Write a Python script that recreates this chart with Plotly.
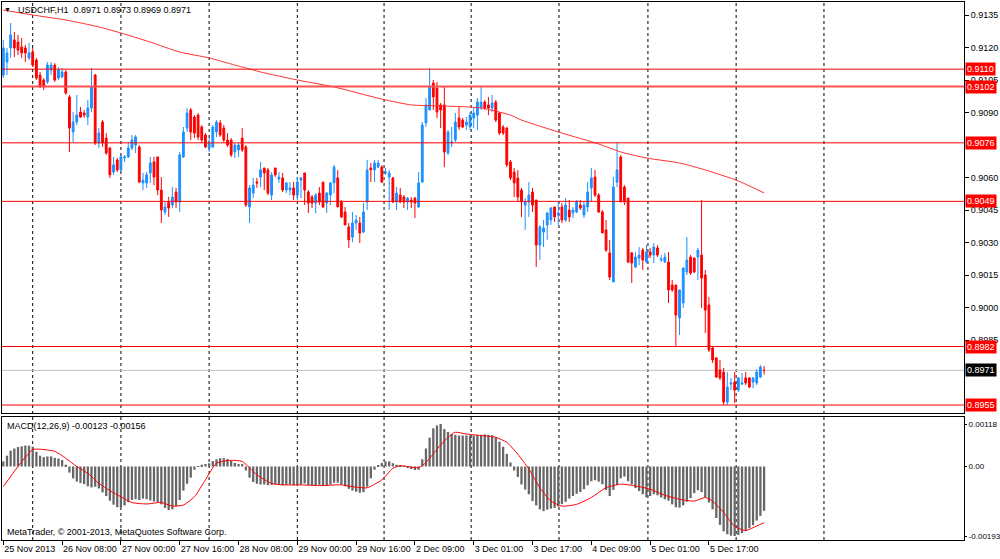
import plotly.graph_objects as go

# ---------------- data (USDCHF H1, one value per bar) ----------------
opens = [
    0.91073, 0.91133, 0.91198, 0.91235, 0.91225, 0.91202, 0.91198, 0.91152, 0.91179, 0.91142,
    0.91073, 0.91050, 0.91041, 0.91096, 0.91119, 0.91059, 0.91064, 0.91087, 0.90972, 0.90810,
    0.90856, 0.90902, 0.90898, 0.90879, 0.90921, 0.91073, 0.90759, 0.90856, 0.90782, 0.90736,
    0.90625, 0.90681, 0.90635, 0.90690, 0.90695, 0.90736, 0.90750, 0.90741, 0.90575, 0.90575,
    0.90621, 0.90672, 0.90695, 0.90542, 0.90441, 0.90487, 0.90473, 0.90533, 0.90487, 0.90695,
    0.90828, 0.90912, 0.90879, 0.90888, 0.90833, 0.90796, 0.90736, 0.90741, 0.90810, 0.90852,
    0.90828, 0.90773, 0.90773, 0.90718, 0.90727, 0.90782, 0.90741, 0.90464, 0.90528, 0.90579,
    0.90602, 0.90644, 0.90635, 0.90519, 0.90644, 0.90593, 0.90598, 0.90542, 0.90542, 0.90552,
    0.90519, 0.90588, 0.90621, 0.90533, 0.90510, 0.90482, 0.90528, 0.90579, 0.90482, 0.90519,
    0.90575, 0.90598, 0.90487, 0.90441, 0.90372, 0.90325, 0.90390, 0.90390, 0.90348, 0.90487,
    0.90644, 0.90635, 0.90648, 0.90648, 0.90621, 0.90602, 0.90598, 0.90487, 0.90519, 0.90510,
    0.90487, 0.90496, 0.90505, 0.90464, 0.90579, 0.90852, 0.90912, 0.91036, 0.91013, 0.90935,
    0.90935, 0.90713, 0.90759, 0.90773, 0.90875, 0.90865, 0.90842, 0.90833, 0.90875, 0.90888,
    0.90921, 0.90948, 0.90935, 0.90921, 0.90948, 0.90898, 0.90833, 0.90828, 0.90672, 0.90625,
    0.90598, 0.90542, 0.90473, 0.90487, 0.90533, 0.90496, 0.90288, 0.90348, 0.90381, 0.90404,
    0.90464, 0.90427, 0.90464, 0.90404, 0.90450, 0.90436, 0.90441, 0.90473, 0.90427, 0.90464,
    0.90552, 0.90602, 0.90519, 0.90441, 0.90358, 0.90252, 0.90118, 0.90579, 0.90695, 0.90556,
    0.90505, 0.90252, 0.90187, 0.90228, 0.90265, 0.90210, 0.90256, 0.90242, 0.90275, 0.90219,
    0.90210, 0.90210, 0.90104, 0.90104, 0.89952, 0.90021, 0.90164, 0.90233, 0.90228, 0.90233,
    0.90242, 0.90150, 0.90012, 0.89813, 0.89767, 0.89712, 0.89702, 0.89564, 0.89647, 0.89656,
    0.89619, 0.89647, 0.89675, 0.89675, 0.89656, 0.89652, 0.89679, 0.89710,
]
highs = [
    0.91235, 0.91198, 0.91313, 0.91272, 0.91258, 0.91244, 0.91212, 0.91221, 0.91198, 0.91152,
    0.91087, 0.91059, 0.91133, 0.91133, 0.91128, 0.91110, 0.91105, 0.91096, 0.90981, 0.90902,
    0.90981, 0.90925, 0.90912, 0.90958, 0.91105, 0.91078, 0.90828, 0.90865, 0.90805, 0.90741,
    0.90695, 0.90690, 0.90704, 0.90704, 0.90764, 0.90796, 0.90796, 0.90750, 0.90621, 0.90625,
    0.90695, 0.90695, 0.90695, 0.90602, 0.90487, 0.90510, 0.90556, 0.90552, 0.90718, 0.90833,
    0.90921, 0.90921, 0.90888, 0.90898, 0.90842, 0.90805, 0.90782, 0.90842, 0.90865, 0.90865,
    0.90842, 0.90805, 0.90782, 0.90759, 0.90759, 0.90828, 0.90750, 0.90565, 0.90598, 0.90598,
    0.90672, 0.90644, 0.90644, 0.90625, 0.90644, 0.90625, 0.90621, 0.90579, 0.90579, 0.90579,
    0.90602, 0.90602, 0.90621, 0.90542, 0.90519, 0.90528, 0.90556, 0.90579, 0.90533, 0.90579,
    0.90658, 0.90635, 0.90496, 0.90464, 0.90390, 0.90441, 0.90427, 0.90418, 0.90482, 0.90681,
    0.90667, 0.90681, 0.90681, 0.90658, 0.90644, 0.90635, 0.90602, 0.90556, 0.90552, 0.90519,
    0.90510, 0.90510, 0.90510, 0.90625, 0.90856, 0.90967, 0.91105, 0.91050, 0.91041, 0.90944,
    0.91018, 0.90819, 0.90833, 0.90898, 0.90925, 0.90875, 0.90879, 0.90902, 0.90921, 0.90967,
    0.91018, 0.90958, 0.90972, 0.90981, 0.90958, 0.90902, 0.90842, 0.90833, 0.90681, 0.90644,
    0.90635, 0.90552, 0.90505, 0.90579, 0.90552, 0.90496, 0.90381, 0.90404, 0.90441, 0.90464,
    0.90464, 0.90487, 0.90482, 0.90505, 0.90496, 0.90464, 0.90496, 0.90496, 0.90487, 0.90579,
    0.90644, 0.90635, 0.90528, 0.90450, 0.90404, 0.90312, 0.90602, 0.90764, 0.90704, 0.90565,
    0.90505, 0.90256, 0.90256, 0.90279, 0.90275, 0.90288, 0.90275, 0.90298, 0.90288, 0.90242,
    0.90252, 0.90256, 0.90127, 0.90104, 0.90081, 0.90187, 0.90325, 0.90242, 0.90233, 0.90275,
    0.90496, 0.90173, 0.90048, 0.89818, 0.89772, 0.89758, 0.89721, 0.89702, 0.89675, 0.89702,
    0.89679, 0.89698, 0.89702, 0.89679, 0.89679, 0.89716, 0.89735, 0.89730,
]
lows = [
    0.91059, 0.91073, 0.91152, 0.91156, 0.91165, 0.91152, 0.91133, 0.91142, 0.91110, 0.91050,
    0.91013, 0.91004, 0.91032, 0.91073, 0.91041, 0.91050, 0.91059, 0.90981, 0.90718, 0.90764,
    0.90842, 0.90875, 0.90875, 0.90842, 0.90902, 0.90750, 0.90736, 0.90741, 0.90704, 0.90598,
    0.90612, 0.90625, 0.90625, 0.90672, 0.90690, 0.90727, 0.90713, 0.90575, 0.90542, 0.90552,
    0.90575, 0.90565, 0.90519, 0.90390, 0.90427, 0.90418, 0.90459, 0.90459, 0.90441, 0.90690,
    0.90810, 0.90773, 0.90782, 0.90773, 0.90759, 0.90736, 0.90718, 0.90736, 0.90787, 0.90787,
    0.90764, 0.90741, 0.90695, 0.90690, 0.90695, 0.90718, 0.90464, 0.90390, 0.90505, 0.90552,
    0.90556, 0.90542, 0.90519, 0.90496, 0.90602, 0.90575, 0.90533, 0.90528, 0.90519, 0.90496,
    0.90496, 0.90505, 0.90473, 0.90436, 0.90459, 0.90436, 0.90473, 0.90459, 0.90436, 0.90473,
    0.90528, 0.90464, 0.90413, 0.90381, 0.90275, 0.90302, 0.90358, 0.90298, 0.90344, 0.90450,
    0.90579, 0.90579, 0.90644, 0.90575, 0.90612, 0.90450, 0.90482, 0.90450, 0.90482, 0.90459,
    0.90450, 0.90459, 0.90413, 0.90459, 0.90575, 0.90833, 0.90912, 0.90912, 0.90875, 0.90828,
    0.90648, 0.90704, 0.90741, 0.90764, 0.90819, 0.90828, 0.90819, 0.90819, 0.90828, 0.90819,
    0.90912, 0.90912, 0.90888, 0.90902, 0.90856, 0.90796, 0.90796, 0.90648, 0.90588, 0.90510,
    0.90487, 0.90418, 0.90358, 0.90418, 0.90441, 0.90187, 0.90219, 0.90279, 0.90312, 0.90381,
    0.90395, 0.90381, 0.90390, 0.90395, 0.90395, 0.90413, 0.90436, 0.90450, 0.90413, 0.90441,
    0.90487, 0.90510, 0.90436, 0.90344, 0.90256, 0.90127, 0.90118, 0.90556, 0.90487, 0.90473,
    0.90205, 0.90113, 0.90182, 0.90196, 0.90173, 0.90205, 0.90228, 0.90205, 0.90233, 0.90210,
    0.90205, 0.90021, 0.90072, 0.89818, 0.89873, 0.89998, 0.90150, 0.90150, 0.90159, 0.90127,
    0.89998, 0.89882, 0.89795, 0.89744, 0.89675, 0.89665, 0.89550, 0.89550, 0.89619, 0.89559,
    0.89610, 0.89642, 0.89642, 0.89628, 0.89628, 0.89642, 0.89675, 0.89690,
]
closes = [
    0.91198, 0.91175, 0.91258, 0.91198, 0.91188, 0.91175, 0.91175, 0.91175, 0.91119, 0.91059,
    0.91018, 0.91018, 0.91119, 0.91119, 0.91050, 0.91096, 0.91087, 0.90990, 0.90828, 0.90856,
    0.90888, 0.90879, 0.90888, 0.90921, 0.91018, 0.90759, 0.90805, 0.90759, 0.90713, 0.90612,
    0.90658, 0.90635, 0.90695, 0.90695, 0.90736, 0.90773, 0.90787, 0.90579, 0.90588, 0.90612,
    0.90667, 0.90602, 0.90542, 0.90450, 0.90464, 0.90459, 0.90510, 0.90487, 0.90704, 0.90810,
    0.90898, 0.90810, 0.90805, 0.90787, 0.90773, 0.90741, 0.90759, 0.90833, 0.90856, 0.90796,
    0.90773, 0.90750, 0.90704, 0.90750, 0.90750, 0.90727, 0.90473, 0.90552, 0.90565, 0.90575,
    0.90635, 0.90621, 0.90528, 0.90612, 0.90612, 0.90602, 0.90542, 0.90575, 0.90552, 0.90519,
    0.90579, 0.90598, 0.90542, 0.90482, 0.90482, 0.90519, 0.90487, 0.90464, 0.90528, 0.90575,
    0.90648, 0.90464, 0.90418, 0.90381, 0.90312, 0.90390, 0.90404, 0.90344, 0.90441, 0.90635,
    0.90635, 0.90667, 0.90667, 0.90579, 0.90625, 0.90621, 0.90487, 0.90528, 0.90487, 0.90487,
    0.90505, 0.90487, 0.90482, 0.90575, 0.90842, 0.90935, 0.91018, 0.90972, 0.90902, 0.90912,
    0.90718, 0.90810, 0.90764, 0.90856, 0.90833, 0.90833, 0.90856, 0.90888, 0.90898, 0.90948,
    0.90948, 0.90921, 0.90921, 0.90944, 0.90865, 0.90805, 0.90805, 0.90658, 0.90598, 0.90575,
    0.90510, 0.90487, 0.90487, 0.90519, 0.90473, 0.90288, 0.90372, 0.90367, 0.90436, 0.90459,
    0.90418, 0.90436, 0.90404, 0.90473, 0.90418, 0.90450, 0.90487, 0.90459, 0.90473, 0.90533,
    0.90598, 0.90519, 0.90441, 0.90344, 0.90265, 0.90141, 0.90556, 0.90635, 0.90487, 0.90487,
    0.90210, 0.90205, 0.90233, 0.90242, 0.90219, 0.90256, 0.90242, 0.90279, 0.90242, 0.90224,
    0.90233, 0.90081, 0.90081, 0.89965, 0.90081, 0.90182, 0.90219, 0.90159, 0.90164, 0.90265,
    0.90136, 0.89988, 0.89804, 0.89758, 0.89679, 0.89675, 0.89564, 0.89633, 0.89652, 0.89619,
    0.89675, 0.89652, 0.89652, 0.89633, 0.89675, 0.89702, 0.89725, 0.89710,
]

# moving average (sampled points along the red curve)
ma_bar = [0, 8, 17, 26, 32, 40, 48, 56, 63, 67, 70, 80, 90, 103, 111, 120, 130, 138, 141,
          152, 162, 168, 175, 184, 191, 200, 207]
ma_val = [0.91373, 0.91350, 0.91327, 0.91295, 0.91267, 0.91225, 0.91179, 0.91152, 0.91119,
          0.91101, 0.91087, 0.91050, 0.91018, 0.90962, 0.90935, 0.90930, 0.90921, 0.90888,
          0.90865, 0.90805, 0.90755, 0.90718, 0.90690, 0.90667, 0.90635, 0.90584, 0.90529]

# MACD main (histogram), one per bar
macd_hist = [
    0.00014, 0.00030, 0.00044, 0.00050, 0.00054, 0.00056, 0.00058, 0.00058, 0.00055, 0.00041,
    0.00030, 0.00026, 0.00028, 0.00028, 0.00024, 0.00022, 0.00018, 0.00005, -0.00017, -0.00033,
    -0.00042, -0.00046, -0.00049, -0.00055, -0.00058, -0.00056, -0.00061, -0.00072, -0.00082, -0.00095,
    -0.00106, -0.00113, -0.00113, -0.00108, -0.00099, -0.00093, -0.00091, -0.00093, -0.00089, -0.00091,
    -0.00094, -0.00097, -0.00099, -0.00105, -0.00115, -0.00121, -0.00119, -0.00110, -0.00093, -0.00067,
    -0.00048, -0.00031, -0.00009, 0.00001, 0.00005, 0.00007, 0.00009, 0.00015, 0.00020, 0.00023,
    0.00023, 0.00021, 0.00016, 0.00010, 0.00007, 0.00007, -0.00011, -0.00031, -0.00043, -0.00048,
    -0.00050, -0.00050, -0.00052, -0.00051, -0.00049, -0.00051, -0.00052, -0.00051, -0.00050, -0.00052,
    -0.00051, -0.00050, -0.00047, -0.00051, -0.00052, -0.00054, -0.00051, -0.00052, -0.00054, -0.00050,
    -0.00045, -0.00045, -0.00050, -0.00055, -0.00062, -0.00067, -0.00070, -0.00073, -0.00071, -0.00056,
    -0.00033, -0.00009, 0.00003, 0.00010, 0.00014, 0.00014, 0.00009, 0.00005, 0.00002, -0.00001,
    -0.00004, -0.00007, -0.00010, -0.00009, 0.00020, 0.00050, 0.00080, 0.00106, 0.00114, 0.00118,
    0.00104, 0.00096, 0.00090, 0.00088, 0.00086, 0.00086, 0.00086, 0.00086, 0.00086, 0.00087,
    0.00088, 0.00089, 0.00088, 0.00087, 0.00081, 0.00069, 0.00055, 0.00035, 0.00011, -0.00011,
    -0.00029, -0.00050, -0.00064, -0.00077, -0.00096, -0.00108, -0.00119, -0.00124, -0.00120, -0.00117,
    -0.00115, -0.00111, -0.00104, -0.00098, -0.00089, -0.00082, -0.00076, -0.00071, -0.00063, -0.00052,
    -0.00041, -0.00038, -0.00042, -0.00049, -0.00065, -0.00082, -0.00065, -0.00051, -0.00033, -0.00028,
    -0.00041, -0.00050, -0.00060, -0.00068, -0.00077, -0.00086, -0.00082, -0.00077, -0.00080, -0.00086,
    -0.00091, -0.00095, -0.00105, -0.00113, -0.00114, -0.00108, -0.00098, -0.00088, -0.00074, -0.00066,
    -0.00071, -0.00085, -0.00100, -0.00119, -0.00143, -0.00162, -0.00180, -0.00188, -0.00192, -0.00193,
    -0.00190, -0.00185, -0.00178, -0.00171, -0.00163, -0.00150, -0.00137, -0.00123,
]

# MACD signal (sampled points along the red curve)
sig_bar = [0, 4, 8, 10, 14, 17, 20, 23, 26, 29, 32, 35, 39, 43, 46, 49, 52, 55, 58, 62, 65, 69,
           73, 76, 81, 86, 92, 95, 99, 103, 106, 108, 113, 115, 118, 121, 123, 126, 130, 134,
           137, 140, 143, 146, 149, 152, 156, 160, 164, 168, 172, 176, 180, 184, 188, 191, 193,
           196, 199, 202, 205, 207]
sig_val = [-0.00056, 0.00000, 0.00047, 0.00048, 0.00042, 0.00023, 0.00000, -0.00019, -0.00047,
           -0.00067, -0.00084, -0.00100, -0.00104, -0.00100, -0.00110, -0.00107, -0.00084,
           -0.00037, 0.00009, 0.00017, 0.00014, -0.00023, -0.00047, -0.00051, -0.00051,
           -0.00053, -0.00051, -0.00056, -0.00059, -0.00037, -0.00005, 0.00002, -0.00003,
           0.00011, 0.00048, 0.00081, 0.00095, 0.00090, 0.00086, 0.00081, 0.00067, 0.00034,
           -0.00007, -0.00059, -0.00096, -0.00110, -0.00105, -0.00086, -0.00059, -0.00049,
           -0.00054, -0.00063, -0.00080, -0.00091, -0.00096, -0.00086, -0.00096, -0.00128,
           -0.00166, -0.00178, -0.00165, -0.00156]

# horizontal levels
level_vals = [0.9110, 0.9102, 0.9076, 0.9049, 0.8982, 0.8955]
current_price = 0.8971

# axes
price_ticks = [0.9135, 0.9120, 0.9105, 0.9090, 0.9060, 0.9045, 0.9030, 0.9015, 0.9000, 0.8985]
macd_ticks = [0.00118, 0.0, -0.00193]
macd_tick_text = ["0.00118", "0.00", "-0.00193"]
time_tick_bars = [0, 16, 32, 48, 64, 80, 96, 112, 128, 144, 160, 176, 192]
time_tick_labels = ["25 Nov 2013", "26 Nov 08:00", "27 Nov 00:00", "27 Nov 16:00",
                    "28 Nov 08:00", "29 Nov 00:00", "29 Nov 16:00", "2 Dec 09:00",
                    "3 Dec 01:00", "3 Dec 17:00", "4 Dec 09:00", "5 Dec 01:00", "5 Dec 17:00"]
grid_bars = [8, 32, 56, 80, 103.6, 127.3, 151.2, 175.4, 199.4, 223.3]

title_text = "USDCHF,H1  0.8971 0.8973 0.8969 0.8971"
macd_text = "MACD(12,26,9) -0.00123 -0.00156"
copyright_text = "MetaTrader, © 2001-2013, MetaQuotes Software Corp."

# ---------------- figure ----------------
bars = list(range(len(opens)))
FONT = "Liberation Sans, Arial, sans-serif"

fig = go.Figure()
fig.add_trace(go.Candlestick(
    x=bars, open=opens, high=highs, low=lows, close=closes,
    xaxis="x2", yaxis="y",
    increasing=dict(line=dict(color="#1E90FF", width=1), fillcolor="#1E90FF"),
    decreasing=dict(line=dict(color="#FF0000", width=1), fillcolor="#FF0000"),
    whiskerwidth=0, hoverinfo="skip", showlegend=False))
fig.add_trace(go.Scatter(
    x=ma_bar, y=ma_val, mode="lines", xaxis="x2", yaxis="y",
    line=dict(color="#FF3030", width=1, shape="spline", smoothing=0.6),
    hoverinfo="skip", showlegend=False))
fig.add_trace(go.Bar(
    x=bars, y=macd_hist, xaxis="x", yaxis="y2", width=0.62,
    marker=dict(color="#666666", line=dict(width=0)),
    hoverinfo="skip", showlegend=False))
fig.add_trace(go.Scatter(
    x=sig_bar, y=sig_val, mode="lines", xaxis="x", yaxis="y2",
    line=dict(color="#FF0000", width=1, shape="spline", smoothing=0.6),
    hoverinfo="skip", showlegend=False))

shapes = []
for g in grid_bars:
    shapes.append(dict(type="line", xref="x", yref="paper", x0=g, x1=g, y0=0, y1=1,
                       line=dict(color="black", width=1, dash="3px,3px"), layer="below"))
for v in level_vals:
    w = 2 if v == 0.9102 else 1
    c = "#FF5050" if v == 0.9102 else "#FF0000"
    shapes.append(dict(type="line", xref="paper", yref="y", x0=0, x1=1, y0=v, y1=v,
                       line=dict(color=c, width=w), layer="above"))
shapes.append(dict(type="line", xref="paper", yref="y", x0=0, x1=1,
                   y0=current_price, y1=current_price,
                   line=dict(color="#C0C0C0", width=1), layer="below"))

annotations = []
for v in level_vals:
    annotations.append(dict(x=1, xref="paper", xanchor="left", xshift=1, y=v, yref="y",
                            text=f"{v:.4f}", showarrow=False, bgcolor="#FF0000",
                            font=dict(color="white", size=9, family=FONT), borderpad=1))
annotations.append(dict(x=1, xref="paper", xanchor="left", xshift=1, y=current_price, yref="y",
                        text=f"{current_price:.4f}", showarrow=False, bgcolor="black",
                        font=dict(color="white", size=9, family=FONT), borderpad=1))
annotations.append(dict(x=0.0057, xref="paper", xanchor="center", y=1, yref="paper",
                        yanchor="top", yshift=-2, text="▼", showarrow=False,
                        font=dict(size=7, color="black", family=FONT)))
annotations.append(dict(x=0.0146, xref="paper", xanchor="left", y=1, yref="paper",
                        yanchor="top", yshift=-1, text=title_text, showarrow=False,
                        font=dict(size=9, color="black", family=FONT)))
annotations.append(dict(x=0.003, xref="paper", xanchor="left", y=1, yref="y2 domain",
                        yanchor="top", yshift=-2, text=macd_text, showarrow=False,
                        font=dict(size=9, color="black", family=FONT)))
annotations.append(dict(x=0.003, xref="paper", xanchor="left", y=0, yref="y2 domain",
                        yanchor="bottom", yshift=1, text=copyright_text, showarrow=False,
                        font=dict(size=9, color="black", family=FONT)))

axis_common = dict(showgrid=False, zeroline=False, showline=True, mirror=True,
                   linecolor="black", linewidth=1, automargin=False)

fig.update_layout(
    width=1000, height=559,
    margin=dict(l=2, r=36, t=2, b=19, autoexpand=False),
    paper_bgcolor="white", plot_bgcolor="white",
    showlegend=False,
    font=dict(family=FONT, size=9, color="black"),
    xaxis=dict(domain=[0, 1], anchor="y2", range=[-0.354, 261.4],
               tickvals=time_tick_bars, ticktext=time_tick_labels, tickangle=0,
               ticks="outside", ticklen=4, tickcolor="black",
               ticklabelposition="outside right",
               tickfont=dict(size=9, family=FONT), **axis_common),
    xaxis2=dict(domain=[0, 1], anchor="y", matches="x", showticklabels=False, ticks="",
                rangeslider=dict(visible=False), **axis_common),
    yaxis=dict(domain=[0.2361, 1], anchor="x2", side="right", range=[0.895133, 0.914100],
               tickvals=price_ticks, ticktext=[f"{t:.4f}" for t in price_ticks],
               ticks="outside", ticklen=4, tickcolor="black",
               tickfont=dict(size=9, family=FONT), **axis_common),
    yaxis2=dict(domain=[0, 0.2286], anchor="x", side="right", range=[-0.002041, 0.001374],
                tickvals=macd_ticks, ticktext=macd_tick_text,
                ticks="outside", ticklen=2, tickcolor="black",
                tickfont=dict(size=8, family=FONT), **axis_common),
    shapes=shapes,
    annotations=annotations,
)

fig.write_html("out.html", config={"displayModeBar": False},
               post_script="document.body.style.margin='0px';document.body.style.overflow='hidden';")
